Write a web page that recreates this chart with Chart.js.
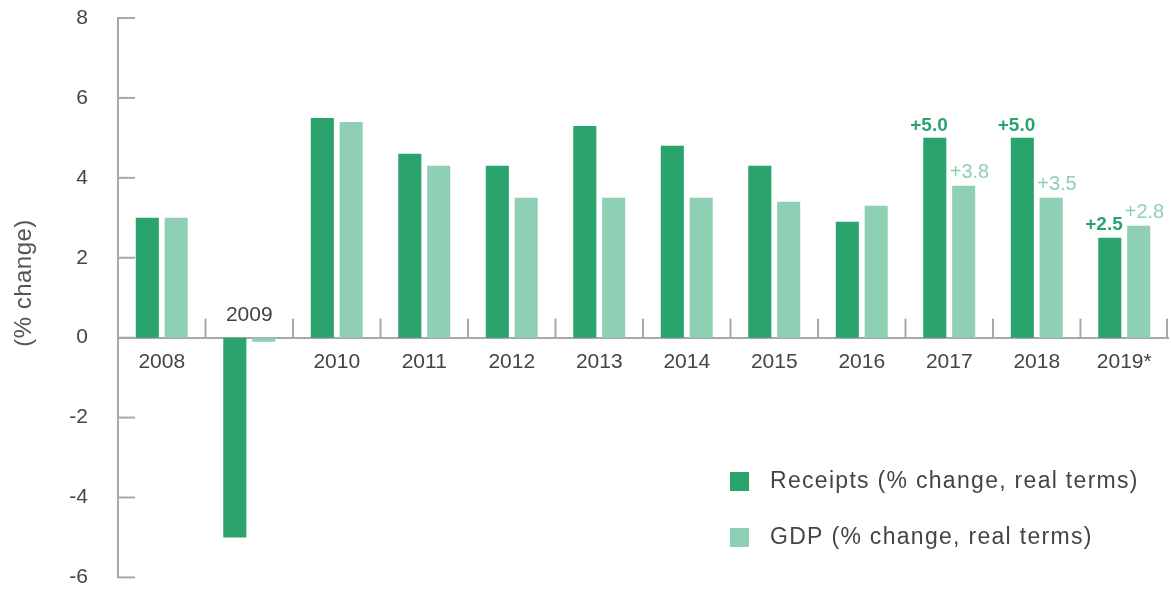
<!DOCTYPE html>
<html>
<head>
<meta charset="utf-8">
<script src="https://cdn.jsdelivr.net/npm/chart.js@4.4.1/dist/chart.umd.min.js"></script>
<style>
  html, body { margin: 0; padding: 0; background: #fff; }
</style>
</head>
<body>
<canvas id="chart" width="1171" height="590"></canvas>
<script>
// Data
var years = ['2008', '2009', '2010', '2011', '2012', '2013', '2014', '2015', '2016', '2017', '2018', '2019*'];
var receipts = [3.0, -5.0, 5.5, 4.6, 4.3, 5.3, 4.8, 4.3, 2.9, 5.0, 5.0, 2.5];
var gdp = [3.0, -0.1, 5.4, 4.3, 3.5, 3.5, 3.5, 3.4, 3.3, 3.8, 3.5, 2.8];
var labelledYears = ['2017', '2018', '2019*'];
var yTicks = [-6, -4, -2, 0, 2, 4, 6, 8];
var seriesNames = ['Receipts (% change, real terms)', 'GDP (% change, real terms)'];
var yTitle = '(% change)';

var darkGreen = '#2aa36c';
var lightGreen = '#8fd0b4';
var axisGrey = '#a6a8a9';
var textGrey = '#444444';
var fontFamily = '"Liberation Sans", Arial, sans-serif';

// Extra drawing: x labels, tick marks, title, legend, value labels
var extras = {
  id: 'extras',
  afterDatasetsDraw: function (chart) {
    var ctx = chart.ctx;
    var x = chart.scales.x;
    var y = chart.scales.y;
    var area = chart.chartArea;
    var y0 = y.getPixelForValue(0);

    ctx.save();
    ctx.strokeStyle = axisGrey;
    ctx.lineWidth = 2;

    // small upward ticks between categories
    for (var i = 1; i <= years.length; i++) {
      var bx = i < years.length ? (x.getPixelForValue(i - 1) + x.getPixelForValue(i)) / 2 : area.right - 1;
      ctx.beginPath();
      ctx.moveTo(bx, y0);
      ctx.lineTo(bx, y0 - 19);
      ctx.stroke();
    }

    // y ticks pointing into the plot
    yTicks.forEach(function (v) {
      var ty = y.getPixelForValue(v);
      ctx.beginPath();
      ctx.moveTo(area.left, ty);
      ctx.lineTo(area.left + 17, ty);
      ctx.stroke();
    });

    // category labels
    ctx.fillStyle = textGrey;
    ctx.font = '21px ' + fontFamily;
    ctx.textAlign = 'center';
    ctx.textBaseline = 'middle';
    years.forEach(function (yr, i) {
      var ly = receipts[i] < 0 ? y0 - 22 : y0 + 25;
      ctx.fillText(yr, x.getPixelForValue(i), ly);
    });

    // axis title
    ctx.save();
    ctx.translate(24, 283);
    ctx.rotate(-Math.PI / 2);
    ctx.fillStyle = '#555555';
    ctx.font = '24px ' + fontFamily;
    ctx.letterSpacing = '0.5px';
    ctx.fillText(yTitle, 0, 0);
    ctx.restore();

    // legend
    ctx.textAlign = 'left';
    chart.data.datasets.forEach(function (ds, k) {
      var ly = 481 + k * 56;
      ctx.fillStyle = ds.backgroundColor;
      ctx.fillRect(730, ly - 9, 19, 19);
      ctx.fillStyle = textGrey;
      ctx.font = '23px ' + fontFamily;
      ctx.letterSpacing = '1.3px';
      ctx.fillText(ds.label, 770, ly + 1);
    });
    ctx.letterSpacing = '0px';

    // value labels for the last years
    var m0 = chart.getDatasetMeta(0);
    var m1 = chart.getDatasetMeta(1);
    ctx.textBaseline = 'bottom';
    ctx.textAlign = 'center';
    labelledYears.forEach(function (yr) {
      var i = years.indexOf(yr);
      var t0 = '+' + receipts[i].toFixed(1);
      var t1 = '+' + gdp[i].toFixed(1);
      ctx.font = 'bold 19px ' + fontFamily;
      var w0 = ctx.measureText(t0).width;
      ctx.font = '20px ' + fontFamily;
      var w1 = ctx.measureText(t1).width;
      var c0 = m0.data[i].x, c1 = m1.data[i].x;
      var overlap = (c0 + w0 / 2) - (c1 - w1 / 2) + 2;
      if (overlap > 0) { c0 -= overlap / 2; c1 += overlap / 2; }
      ctx.font = 'bold 19px ' + fontFamily;
      ctx.fillStyle = darkGreen;
      ctx.fillText(t0, c0, m0.data[i].y - 3);
      ctx.font = '20px ' + fontFamily;
      ctx.fillStyle = lightGreen;
      ctx.fillText(t1, c1, m1.data[i].y - 3);
    });
    ctx.restore();
  }
};

var ctx = document.getElementById('chart').getContext('2d');
var chart = new Chart(ctx, {
  type: 'bar',
  data: {
    labels: years,
    datasets: [
      { label: seriesNames[0], data: receipts, backgroundColor: darkGreen },
      { label: seriesNames[1], data: gdp, backgroundColor: lightGreen }
    ]
  },
  options: {
    responsive: false,
    animation: false,
    categoryPercentage: 0.66,
    barPercentage: 0.8,
    layout: { padding: { top: 18, right: 3, bottom: 12, left: 0 } },
    plugins: { legend: { display: false }, tooltip: { enabled: false } },
    scales: {
      x: {
        position: { y: 0 },
        grid: { display: false, drawTicks: false },
        ticks: { display: false },
        border: { color: axisGrey, width: 2 }
      },
      y: {
        min: -6,
        max: 8,
        afterFit: function (scale) { scale.width = 118; },
        afterBuildTicks: function (scale) {
          scale.ticks = yTicks.map(function (v) { return { value: v }; });
        },
        // tick length gives the label gap; padding would also pad the top and bottom
        grid: { display: false, drawTicks: true, tickLength: 30 },
        border: { color: axisGrey, width: 2 },
        ticks: {
          padding: 0,
          color: textGrey,
          font: { family: fontFamily, size: 21 }
        }
      }
    }
  },
  plugins: [extras]
});
</script>
</body>
</html>
